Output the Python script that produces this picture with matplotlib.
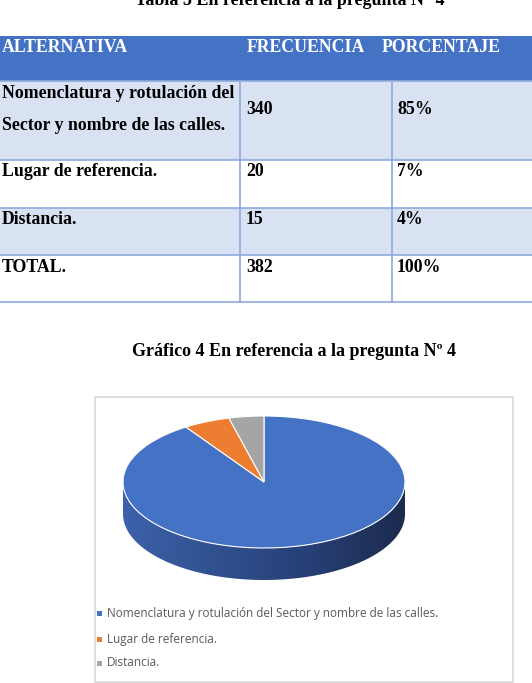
import numpy as np
import matplotlib.pyplot as plt
from matplotlib.patches import Rectangle, PathPatch
from matplotlib.path import Path
from matplotlib.colors import LinearSegmentedColormap

W, H = 532, 683

table_title = "Tabla 5 En referencia a la pregunta N° 4"
chart_title = "Gráfico 4 En referencia a la pregunta Nº 4"
headers = ["ALTERNATIVA", "FRECUENCIA", "PORCENTAJE"]
alternativas = [["Nomenclatura y rotulación del", "Sector y nombre de las calles."],
                ["Lugar de referencia."], ["Distancia."], ["TOTAL."]]
frecuencias = ["340", "20", "15", "382"]
porcentajes = ["85%", "7%", "4%", "100%"]

pie_labels = ["Nomenclatura y rotulación del Sector y nombre de las calles.",
              "Lugar de referencia.", "Distancia."]
pie_values = [340, 20, 15]
pie_colors = ["#4472C4", "#ED7D31", "#A5A5A5"]

fig = plt.figure(figsize=(W / 100, H / 100), dpi=100)
fig.patch.set_facecolor("white")

bg = fig.add_axes([0, 0, 1, 1])
bg.set_xlim(0, W)
bg.set_ylim(H, 0)
bg.axis("off")

serif = "Liberation Serif"

# ---- table title (cut at top, as in the reference) ----
bg.text(290, 5, table_title, family=serif, weight="bold", fontsize=13,
        ha="center", va="baseline", color="black")

# ---- table ----
row_edges = [36, 81, 160, 208, 255, 302]
border = "#8EAADB"
bg.add_patch(Rectangle((-5, row_edges[0]), W + 10, row_edges[1] - row_edges[0],
                       facecolor="#4472C4", edgecolor="none"))
row_fill = ["#D9E2F3", "white", "#D9E2F3", "white"]
for i in range(4):
    bg.add_patch(Rectangle((-5, row_edges[i + 1]), W + 10, row_edges[i + 2] - row_edges[i + 1],
                           facecolor=row_fill[i], edgecolor="none"))
for y in row_edges[1:]:
    bg.plot([-5, W + 5], [y, y], color=border, lw=1.2)
for x in [240, 392]:
    bg.plot([x, x], [row_edges[1], row_edges[-1]], color=border, lw=1.2)

fs = 12.8
hx = [2, 247, 382]
for x, h in zip(hx, headers):
    bg.text(x, 48, h, family=serif, weight="bold", fontsize=fs, color="white",
            ha="left", va="center")

row_y = [110, 172, 220, 267]
for i in range(4):
    lines = alternativas[i]
    if len(lines) == 2:
        bg.text(2, 94, lines[0], family=serif, weight="bold", fontsize=fs,
                ha="left", va="center")
        bg.text(2, 125, lines[1], family=serif, weight="bold", fontsize=fs,
                ha="left", va="center")
    else:
        bg.text(2, row_y[i], lines[0], family=serif, weight="bold", fontsize=fs,
                ha="left", va="center")
    bg.text(246, row_y[i], frecuencias[i], family=serif, weight="bold", fontsize=fs,
            ha="left", va="center")
    bg.text(397, row_y[i], porcentajes[i], family=serif, weight="bold", fontsize=fs,
            ha="left", va="center")

# ---- chart title ----
bg.text(294, 351, chart_title, family=serif, weight="bold", fontsize=13,
        ha="center", va="center")

# ---- chart box ----
bg.add_patch(Rectangle((95, 397), 513 - 95, 682 - 397, facecolor="white",
                       edgecolor="#D9D9D9", lw=1.2))

# ---- 3D-looking pie ----
pl, pr, pt, pb = 123, 405, 416, 580
ry = 66
depth = 32 / ry
ax = fig.add_axes([pl / W, 1 - pb / H, (pr - pl) / W, (pb - pt) / H])
ax.set_xlim(-1, 1)
ax.set_ylim(-1 - depth, 1)
ax.axis("off")

# side wall (front half)
t = np.linspace(np.pi, 2 * np.pi, 200)
xs = np.concatenate([np.cos(t), np.cos(t[::-1])])
ys = np.concatenate([np.sin(t) - depth, np.sin(t[::-1])])
verts = np.column_stack([xs, ys])
side = PathPatch(Path(np.vstack([verts, verts[:1]]), closed=True),
                 facecolor="none", edgecolor="none")
ax.add_patch(side)
cmap = LinearSegmentedColormap.from_list("side", ["#3D62AA", "#30508F", "#263F74", "#1C2B4E"])
grad = np.linspace(0, 1, 256).reshape(1, -1)
im = ax.imshow(grad, extent=[-1, 1, -1 - depth, 0.1], cmap=cmap, aspect="auto",
               zorder=1)
im.set_clip_path(side)

wedges, _ = ax.pie(pie_values, colors=pie_colors, startangle=90, counterclock=False,
                   radius=1, center=(0, 0), frame=True,
                   wedgeprops=dict(edgecolor="white", linewidth=0.8))
for w in wedges:
    w.set_zorder(2)
ax.set_aspect("auto")
ax.set_xlim(-1, 1)
ax.set_ylim(-1 - depth, 1)
ax.axis("off")

# ---- legend ----
leg_font = "Open Sans"
leg_y = [613, 639, 663]
for y, lab, c in zip(leg_y, pie_labels, pie_colors):
    bg.add_patch(Rectangle((96.5, y - 2.5), 5, 5, facecolor=c, edgecolor="none"))
    bg.text(107, y, lab, family=leg_font, fontsize=8.5, color="#595959",
            ha="left", va="center")

fig.savefig("out.png", dpi=100, facecolor="white")
